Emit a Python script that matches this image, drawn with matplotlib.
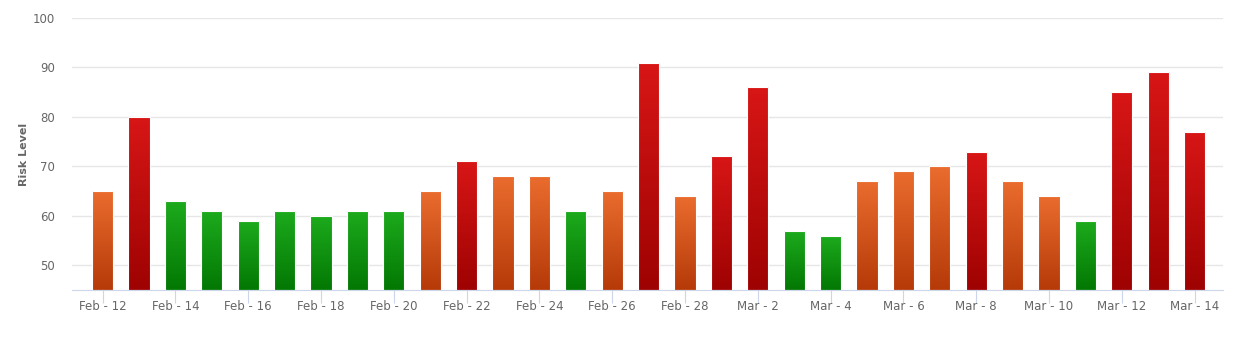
import numpy as np
import matplotlib
matplotlib.use("Agg")
from matplotlib import pyplot as plt
from matplotlib.colors import LinearSegmentedColormap

# Daily risk level, Feb 12 .. Mar 14
days = ["Feb - 12", "Feb - 13", "Feb - 14", "Feb - 15", "Feb - 16", "Feb - 17",
        "Feb - 18", "Feb - 19", "Feb - 20", "Feb - 21", "Feb - 22", "Feb - 23",
        "Feb - 24", "Feb - 25", "Feb - 26", "Feb - 27", "Feb - 28", "Mar - 1",
        "Mar - 2", "Mar - 3", "Mar - 4", "Mar - 5", "Mar - 6", "Mar - 7",
        "Mar - 8", "Mar - 9", "Mar - 10", "Mar - 11", "Mar - 12", "Mar - 13",
        "Mar - 14"]
risk = [65, 80, 63, 61, 59, 61, 60, 61, 61, 65, 71, 68, 68, 61, 65, 91,
        64, 72, 86, 57, 56, 67, 69, 70, 73, 67, 64, 59, 85, 89, 77]
level = ["mid", "high", "low", "low", "low", "low", "low", "low", "low", "mid",
         "high", "mid", "mid", "low", "mid", "high", "mid", "high", "high", "low",
         "low", "mid", "mid", "mid", "high", "mid", "mid", "low", "high", "high",
         "high"]

# top colour, bottom colour
grads = {
    "high": ("#d81616", "#9e0202"),
    "mid": ("#ea6c2e", "#b53a08"),
    "low": ("#1dab1d", "#037803"),
}
cmaps = {k: LinearSegmentedColormap.from_list(k, [v[1], v[0]]) for k, v in grads.items()}

fig = plt.figure(figsize=(12.5, 3.4), dpi=100)
ax = fig.add_axes([0.0576, 0.147, 0.9208, 0.8])

x = np.arange(len(days))
bars = ax.bar(x, np.array(risk) - 45, bottom=45, width=0.58,
              color="none", edgecolor="white", linewidth=0.8, zorder=3)

grad = np.linspace(0, 1, 256).reshape(-1, 1)
for b, lv in zip(bars, level):
    x0, y0 = b.get_x(), b.get_y()
    w, h = b.get_width(), b.get_height()
    im = ax.imshow(grad, cmap=cmaps[lv], origin="lower", aspect="auto",
                   extent=(x0, x0 + w, y0, y0 + h), zorder=2)
    im.set_clip_path(b)

ax.set_xlim(-0.84, len(days) - 1 + 0.78)
ax.set_ylim(45, 100)
ax.set_yticks([50, 60, 70, 80, 90, 100])
ax.yaxis.grid(True, color="#e6e6e6", linewidth=1)
ax.set_axisbelow(True)

ax.set_xticks(x[::2])
ax.set_xticklabels(days[::2])

for s in ["top", "right", "left"]:
    ax.spines[s].set_visible(False)
ax.spines["bottom"].set_color("#ccd6eb")

ax.tick_params(axis="y", length=0, labelsize=8.5, labelcolor="#666666", pad=12)
ax.tick_params(axis="x", length=9, color="#ccd6eb", labelsize=8.5,
               labelcolor="#666666", pad=-2, direction="out")

ax.set_ylabel("Risk Level", fontsize=8, color="#666666", fontweight="bold")
ax.yaxis.set_label_coords(-0.037, 0.5)

fig.savefig("out.png", dpi=100)
